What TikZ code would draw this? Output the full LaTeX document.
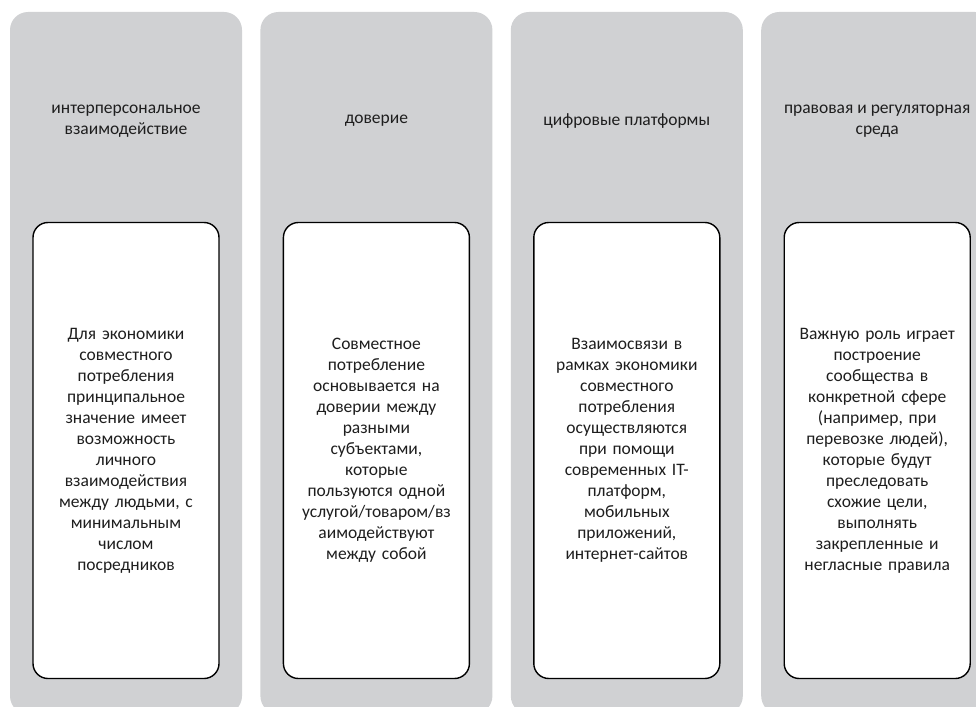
\documentclass[tikz,border=0pt]{standalone}
\usepackage{fontspec}
\setmainfont{Carlito}
\usepackage{tikz}
\usetikzlibrary{positioning}
\definecolor{colgray}{HTML}{D0D1D3}
\definecolor{txtgray}{HTML}{1E1E1E}
\tikzset{column/.style={rectangle,fill=colgray,rounded corners=18pt,minimum width=232pt,minimum height=702pt,inner sep=0pt},
	head/.style={align=center,text=txtgray,font=\fontsize{17.5pt}{21pt}\selectfont},
	card/.style={rectangle,draw=black,fill=white,line width=1.4pt,rounded corners=15pt,minimum height=456pt,text width=186pt,inner sep=0pt,align=center,text=txtgray,font=\fontsize{17.5pt}{21pt}\selectfont},}

\begin{document}
\begin{tikzpicture}[x=1pt,y=1pt]
	\useasboundingbox (0,0) rectangle (976,-706);
	\node[column] (c1) at (126,-363) {};
	\node[column] (c2) [right = 18pt of c1] {};
	\node[column] (c3) [right = 18pt of c2] {};
	\node[column] (c4) [right = 18pt of c3] {};

	\node[head] (h1) at ([yshift=-109pt]c1.north) {интерперсональное\\взаимодействие};
	\node[head] (h2) at ([yshift=-109pt]c2.north) {доверие};
	\node[head] (h3) at ([yshift=-109pt]c3.north) {цифровые платформы};
	\node[head] (h4) at ([yshift=-109pt]c4.north) {правовая и регуляторная\\среда};

	\node[card] (b1) [below = 210pt of c1.north] {Для экономики\\совместного\\потребления\\принципальное\\значение имеет\\возможность\\личного\\взаимодействия\\между людьми, с\\минимальным\\числом\\посредников};
	\node[card] (b2) [below = 210pt of c2.north] {Совместное\\потребление\\основывается на\\доверии между\\разными\\субъектами,\\которые\\пользуются одной\\услугой/товаром/вз\\аимодействуют\\между собой};
	\node[card] (b3) [below = 210pt of c3.north] {Взаимосвязи в\\рамках экономики\\совместного\\потребления\\осуществляются\\при помощи\\современных IT-\\платформ,\\мобильных\\приложений,\\интернет-сайтов};
	\node[card] (b4) [below = 210pt of c4.north] {Важную роль играет\\построение\\сообщества в\\конкретной сфере\\(например, при\\перевозке людей),\\которые будут\\преследовать\\схожие цели,\\выполнять\\закрепленные и\\негласные правила};
\end{tikzpicture}
\end{document}
